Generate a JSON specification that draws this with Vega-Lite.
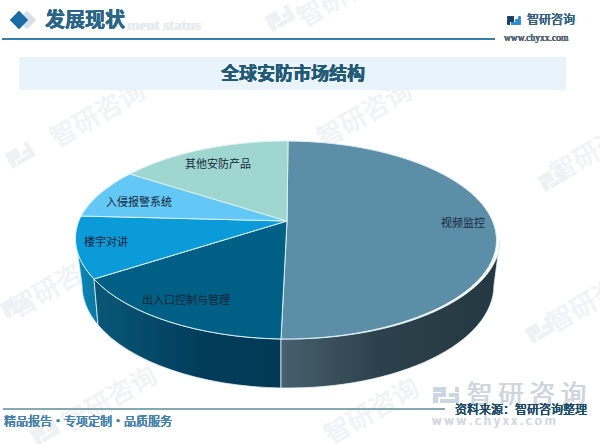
{"$schema":"https://vega.github.io/schema/vega-lite/v6.json","width":600,"height":444,"padding":0,"autosize":{"type":"none"},"background":"#ffffff","config":{"view":{"stroke":null},"text":{"font":"Noto Sans CJK SC"}},
"datasets":{"pie":[{"name":"视频监控","share":50},{"name":"出入口控制与管理","share":20},{"name":"楼宇对讲","share":9},{"name":"入侵报警系统","share":8},{"name":"其他安防产品","share":13}]},
"data":{"name":"pie"},
"layer":[
{"mark":{"type":"text","text":"智研咨询","angle":330,"fontSize":26,"fill":"#f1f3f6"},"encoding":{"x":{"datum":98,"scale":{"domain":[0,600],"nice":false},"axis":null},"y":{"datum":115,"scale":{"domain":[0,444],"reverse":true,"nice":false},"axis":null}}},
{"mark":{"type":"text","text":"智研咨询","angle":330,"fontSize":26,"fill":"#f1f3f6"},"encoding":{"x":{"datum":365,"scale":{"domain":[0,600],"nice":false},"axis":null},"y":{"datum":115,"scale":{"domain":[0,444],"reverse":true,"nice":false},"axis":null}}},
{"mark":{"type":"text","text":"智研咨询","angle":330,"fontSize":26,"fill":"#f1f3f6"},"encoding":{"x":{"datum":110,"scale":{"domain":[0,600],"nice":false},"axis":null},"y":{"datum":400,"scale":{"domain":[0,444],"reverse":true,"nice":false},"axis":null}}},
{"mark":{"type":"text","text":"智研咨询","angle":330,"fontSize":26,"fill":"#f1f3f6"},"encoding":{"x":{"datum":372,"scale":{"domain":[0,600],"nice":false},"axis":null},"y":{"datum":412,"scale":{"domain":[0,444],"reverse":true,"nice":false},"axis":null}}},
{"mark":{"type":"text","text":"智研咨询","angle":330,"fontSize":26,"fill":"#f1f3f6"},"encoding":{"x":{"datum":58,"scale":{"domain":[0,600],"nice":false},"axis":null},"y":{"datum":285,"scale":{"domain":[0,444],"reverse":true,"nice":false},"axis":null}}},
{"mark":{"type":"text","text":"智研咨询","angle":330,"fontSize":26,"fill":"#f1f3f6"},"encoding":{"x":{"datum":598,"scale":{"domain":[0,600],"nice":false},"axis":null},"y":{"datum":150,"scale":{"domain":[0,444],"reverse":true,"nice":false},"axis":null}}},
{"mark":{"type":"text","text":"智研咨询","angle":330,"fontSize":26,"fill":"#f1f3f6"},"encoding":{"x":{"datum":595,"scale":{"domain":[0,600],"nice":false},"axis":null},"y":{"datum":300,"scale":{"domain":[0,444],"reverse":true,"nice":false},"axis":null}}},
{"mark":{"type":"text","text":"智研咨询","angle":330,"fontSize":26,"fill":"#f1f3f6"},"encoding":{"x":{"datum":345,"scale":{"domain":[0,600],"nice":false},"axis":null},"y":{"datum":-5,"scale":{"domain":[0,444],"reverse":true,"nice":false},"axis":null}}},
{"mark":{"type":"point","shape":"M-13,-8H0V2H-8V8H-13V-2H-5V-3H-13ZM9,-8H13V-3H9ZM3,-2H13V8H-6V4H9V2H3Z","size":4,"angle":330,"filled":true,"opacity":1,"fill":"#eff1f5"},"encoding":{"x":{"datum":20,"scale":{"domain":[0,600],"nice":false},"axis":null},"y":{"datum":155,"scale":{"domain":[0,444],"reverse":true,"nice":false},"axis":null}}},
{"mark":{"type":"point","shape":"M-13,-8H0V2H-8V8H-13V-2H-5V-3H-13ZM9,-8H13V-3H9ZM3,-2H13V8H-6V4H9V2H3Z","size":4,"angle":330,"filled":true,"opacity":1,"fill":"#eff1f5"},"encoding":{"x":{"datum":280,"scale":{"domain":[0,600],"nice":false},"axis":null},"y":{"datum":18,"scale":{"domain":[0,444],"reverse":true,"nice":false},"axis":null}}},
{"mark":{"type":"point","shape":"M-13,-8H0V2H-8V8H-13V-2H-5V-3H-13ZM9,-8H13V-3H9ZM3,-2H13V8H-6V4H9V2H3Z","size":4,"angle":330,"filled":true,"opacity":1,"fill":"#eff1f5"},"encoding":{"x":{"datum":553,"scale":{"domain":[0,600],"nice":false},"axis":null},"y":{"datum":178,"scale":{"domain":[0,444],"reverse":true,"nice":false},"axis":null}}},
{"mark":{"type":"point","shape":"M-13,-8H0V2H-8V8H-13V-2H-5V-3H-13ZM9,-8H13V-3H9ZM3,-2H13V8H-6V4H9V2H3Z","size":4,"angle":330,"filled":true,"opacity":1,"fill":"#eff1f5"},"encoding":{"x":{"datum":15,"scale":{"domain":[0,600],"nice":false},"axis":null},"y":{"datum":305,"scale":{"domain":[0,444],"reverse":true,"nice":false},"axis":null}}},
{"mark":{"type":"point","shape":"M-13,-8H0V2H-8V8H-13V-2H-5V-3H-13ZM9,-8H13V-3H9ZM3,-2H13V8H-6V4H9V2H3Z","size":4,"angle":330,"filled":true,"opacity":1,"fill":"#eff1f5"},"encoding":{"x":{"datum":540,"scale":{"domain":[0,600],"nice":false},"axis":null},"y":{"datum":330,"scale":{"domain":[0,444],"reverse":true,"nice":false},"axis":null}}},
{"mark":{"type":"point","shape":"M-13,-8H0V2H-8V8H-13V-2H-5V-3H-13ZM9,-8H13V-3H9ZM3,-2H13V8H-6V4H9V2H3Z","size":4,"angle":330,"filled":true,"opacity":1,"fill":"#eff1f5"},"encoding":{"x":{"datum":45,"scale":{"domain":[0,600],"nice":false},"axis":null},"y":{"datum":432,"scale":{"domain":[0,444],"reverse":true,"nice":false},"axis":null}}},

{"mark":{"type":"text","text":"ment status","fontSize":15,"fontWeight":"bold","font":"Liberation Serif","fill":"#e7ebf0","align":"left"},"encoding":{"x":{"datum":127,"scale":{"domain":[0,600],"nice":false},"axis":null},"y":{"datum":25,"scale":{"domain":[0,444],"reverse":true,"nice":false},"axis":null}}},
{"mark":{"type":"point","shape":"diamond","size":300,"filled":true,"opacity":1,"fill":"#d7dfe7"},"encoding":{"x":{"datum":27,"scale":{"domain":[0,600],"nice":false},"axis":null},"y":{"datum":20,"scale":{"domain":[0,444],"reverse":true,"nice":false},"axis":null}}},
{"mark":{"type":"point","shape":"diamond","size":300,"filled":true,"opacity":1,"fill":"#1b6ca6"},"encoding":{"x":{"datum":19,"scale":{"domain":[0,600],"nice":false},"axis":null},"y":{"datum":20,"scale":{"domain":[0,444],"reverse":true,"nice":false},"axis":null}}},
{"mark":{"type":"text","text":"发展现状","fontSize":20,"fontWeight":"bold","fill":"#2b6688","align":"left"},"encoding":{"x":{"datum":45,"scale":{"domain":[0,600],"nice":false},"axis":null},"y":{"datum":21,"scale":{"domain":[0,444],"reverse":true,"nice":false},"axis":null}}},
{"mark":{"type":"rule","stroke":"#2f7ca6","strokeWidth":1},"encoding":{"x":{"datum":2,"scale":{"domain":[0,600],"nice":false},"axis":null},"x2":{"datum":495},"y":{"datum":39,"scale":{"domain":[0,444],"reverse":true,"nice":false},"axis":null}}},
{"mark":{"type":"point","shape":"M-13,-8H0V2H-8V8H-13V-2H-5V-3H-13Z","size":1,"filled":true,"opacity":1,"fill":"#163f6b"},"encoding":{"x":{"datum":514,"scale":{"domain":[0,600],"nice":false},"axis":null},"y":{"datum":20.5,"scale":{"domain":[0,444],"reverse":true,"nice":false},"axis":null}}},
{"mark":{"type":"point","shape":"M9,-8H13V-3H9ZM3,-2H13V8H-6V4H9V2H3Z","size":1,"filled":true,"opacity":1,"fill":"#2a8ccc"},"encoding":{"x":{"datum":514,"scale":{"domain":[0,600],"nice":false},"axis":null},"y":{"datum":20.5,"scale":{"domain":[0,444],"reverse":true,"nice":false},"axis":null}}},
{"mark":{"type":"text","text":"智研咨询","fontSize":12,"fill":"#35607f","align":"left"},"encoding":{"x":{"datum":527,"scale":{"domain":[0,600],"nice":false},"axis":null},"y":{"datum":20,"scale":{"domain":[0,444],"reverse":true,"nice":false},"axis":null}}},
{"mark":{"type":"text","text":"www.chyxx.com","fontSize":9.5,"font":"Liberation Serif","fill":"#4f6272","align":"left"},"encoding":{"x":{"datum":504,"scale":{"domain":[0,600],"nice":false},"axis":null},"y":{"datum":38,"scale":{"domain":[0,444],"reverse":true,"nice":false},"axis":null}}},
{"mark":{"type":"rect","fill":"#e8f3fb"},"encoding":{"x":{"datum":19,"scale":{"domain":[0,600],"nice":false},"axis":null},"x2":{"datum":566},"y":{"datum":57,"scale":{"domain":[0,444],"reverse":true,"nice":false},"axis":null},"y2":{"datum":90}}},
{"mark":{"type":"text","text":"全球安防市场结构","fontSize":18,"fontWeight":"bold","fill":"#235a75"},"encoding":{"x":{"datum":293,"scale":{"domain":[0,600],"nice":false},"axis":null},"y":{"datum":75,"scale":{"domain":[0,444],"reverse":true,"nice":false},"axis":null}}},

{"transform":[{"filter":"datum.name==='楼宇对讲'"}],"mark":{"type":"point","shape":"M-194,39A212,99 0 0 1 -212,0L-206,45A206,103 0 0 0 -190,85Z","size":4,"filled":true,"opacity":1,"stroke":"#cfeaf5","strokeWidth":0.8,"fill":{"gradient":"linear","x1":0,"y1":0,"x2":1,"y2":0,"stops":[{"offset":0,"color":"#0d8abb"},{"offset":1,"color":"#0a76a2"}]}},"encoding":{"x":{"datum":288,"scale":{"domain":[0,600],"nice":false},"axis":null},"y":{"datum":240,"scale":{"domain":[0,444],"reverse":true,"nice":false},"axis":null}}},
{"transform":[{"filter":"datum.name==='出入口控制与管理'"}],"mark":{"type":"point","shape":"M-7,99A212,99 0 0 1 -194,39L-190,85A206,103 0 0 0 -7,148Z","size":4,"filled":true,"opacity":1,"stroke":"#e6f4f8","strokeWidth":0.8,"fill":{"gradient":"linear","x1":0,"y1":0,"x2":1,"y2":0,"stops":[{"offset":0,"color":"#0a5778"},{"offset":0.6,"color":"#013c59"},{"offset":1,"color":"#023a55"}]}},"encoding":{"x":{"datum":288,"scale":{"domain":[0,600],"nice":false},"axis":null},"y":{"datum":240,"scale":{"domain":[0,444],"reverse":true,"nice":false},"axis":null}}},
{"transform":[{"filter":"datum.name==='视频监控'"}],"mark":{"type":"point","shape":"M-7,99A212,99 0 0 0 212,0L206,45A206,103 0 0 1 -7,148Z","size":4,"filled":true,"opacity":1,"stroke":"#e6f4f8","strokeWidth":0.8,"fill":{"gradient":"linear","x1":0,"y1":0,"x2":1,"y2":0,"stops":[{"offset":0,"color":"#47606d"},{"offset":0.45,"color":"#2c414b"},{"offset":1,"color":"#243841"}]}},"encoding":{"x":{"datum":288,"scale":{"domain":[0,600],"nice":false},"axis":null},"y":{"datum":240,"scale":{"domain":[0,444],"reverse":true,"nice":false},"axis":null}}},
{"mark":{"type":"point","size":4,"filled":true,"opacity":1,"stroke":"#d9f0f6","strokeWidth":1},"encoding":{"x":{"datum":288,"scale":{"domain":[0,600],"nice":false},"axis":null},"y":{"datum":240,"scale":{"domain":[0,444],"reverse":true,"nice":false},"axis":null},"fill":{"field":"name","type":"nominal","legend":null,"scale":{"domain":["视频监控","出入口控制与管理","楼宇对讲","入侵报警系统","其他安防产品"],"range":["#5d8ea8","#005f85","#0a9bd8","#63c8f5","#9fd6d0"]}},"shape":{"field":"name","type":"nominal","legend":null,"scale":{"domain":["视频监控","出入口控制与管理","楼宇对讲","入侵报警系统","其他安防产品"],"range":["M-1,-19L0,-99A212,99 0 1 1 -7,99Z","M-1,-19L-7,99A212,99 0 0 1 -194,39Z","M-1,-19L-194,39A212,99 0 0 1 -207,-24Z","M-1,-19L-207,-24A212,99 0 0 1 -158,-66Z","M-1,-19L-158,-66A212,99 0 0 1 0,-99Z"]}},"tooltip":[{"field":"name","type":"nominal"},{"field":"share","type":"quantitative"}]}},

{"transform":[{"filter":"datum.name==='视频监控'"}],"mark":{"type":"text","fontSize":11,"fill":"#14263a"},"encoding":{"text":{"field":"name"},"x":{"datum":463,"scale":{"domain":[0,600],"nice":false},"axis":null},"y":{"datum":224,"scale":{"domain":[0,444],"reverse":true,"nice":false},"axis":null}}},
{"transform":[{"filter":"datum.name==='其他安防产品'"}],"mark":{"type":"text","fontSize":11,"fill":"#14263a"},"encoding":{"text":{"field":"name"},"x":{"datum":218,"scale":{"domain":[0,600],"nice":false},"axis":null},"y":{"datum":165,"scale":{"domain":[0,444],"reverse":true,"nice":false},"axis":null}}},
{"transform":[{"filter":"datum.name==='入侵报警系统'"}],"mark":{"type":"text","fontSize":11,"fill":"#14263a"},"encoding":{"text":{"field":"name"},"x":{"datum":139,"scale":{"domain":[0,600],"nice":false},"axis":null},"y":{"datum":203,"scale":{"domain":[0,444],"reverse":true,"nice":false},"axis":null}}},
{"transform":[{"filter":"datum.name==='楼宇对讲'"}],"mark":{"type":"text","fontSize":11,"fill":"#14263a"},"encoding":{"text":{"field":"name"},"x":{"datum":106,"scale":{"domain":[0,600],"nice":false},"axis":null},"y":{"datum":243,"scale":{"domain":[0,444],"reverse":true,"nice":false},"axis":null}}},
{"transform":[{"filter":"datum.name==='出入口控制与管理'"}],"mark":{"type":"text","fontSize":11,"fill":"#14263a"},"encoding":{"text":{"field":"name"},"x":{"datum":186,"scale":{"domain":[0,600],"nice":false},"axis":null},"y":{"datum":301,"scale":{"domain":[0,444],"reverse":true,"nice":false},"axis":null}}},

{"mark":{"type":"rule","stroke":"#7fa6ae","strokeWidth":1},"encoding":{"x":{"datum":3,"scale":{"domain":[0,600],"nice":false},"axis":null},"x2":{"datum":445},"y":{"datum":409,"scale":{"domain":[0,444],"reverse":true,"nice":false},"axis":null}}},
{"mark":{"type":"point","shape":"M-13,-8H0V2H-8V8H-13V-2H-5V-3H-13ZM9,-8H13V-3H9ZM3,-2H13V8H-6V4H9V2H3Z","size":4,"filled":true,"opacity":1,"fill":"#ccd6e2"},"encoding":{"x":{"datum":446,"scale":{"domain":[0,600],"nice":false},"axis":null},"y":{"datum":395,"scale":{"domain":[0,444],"reverse":true,"nice":false},"axis":null}}},
{"mark":{"type":"text","text":"智 研 咨 询","fontSize":25.5,"fill":"#d0d5de","align":"left"},"encoding":{"x":{"datum":467,"scale":{"domain":[0,600],"nice":false},"axis":null},"y":{"datum":395,"scale":{"domain":[0,444],"reverse":true,"nice":false},"axis":null}}},
{"mark":{"type":"text","text":"w w w . c h y x x . c o m","fontSize":12,"fill":"#d5d9e0","align":"left"},"encoding":{"x":{"datum":432,"scale":{"domain":[0,600],"nice":false},"axis":null},"y":{"datum":421,"scale":{"domain":[0,444],"reverse":true,"nice":false},"axis":null}}},
{"mark":{"type":"text","text":"资料来源：智研咨询整理","fontSize":12,"fill":"#1d4a66","align":"left"},"encoding":{"x":{"datum":455,"scale":{"domain":[0,600],"nice":false},"axis":null},"y":{"datum":410,"scale":{"domain":[0,444],"reverse":true,"nice":false},"axis":null}}},
{"mark":{"type":"text","text":"精品报告·专项定制·品质服务","fontSize":12,"fill":"#4582ab","align":"left"},"encoding":{"x":{"datum":4,"scale":{"domain":[0,600],"nice":false},"axis":null},"y":{"datum":422,"scale":{"domain":[0,444],"reverse":true,"nice":false},"axis":null}}}
]}
